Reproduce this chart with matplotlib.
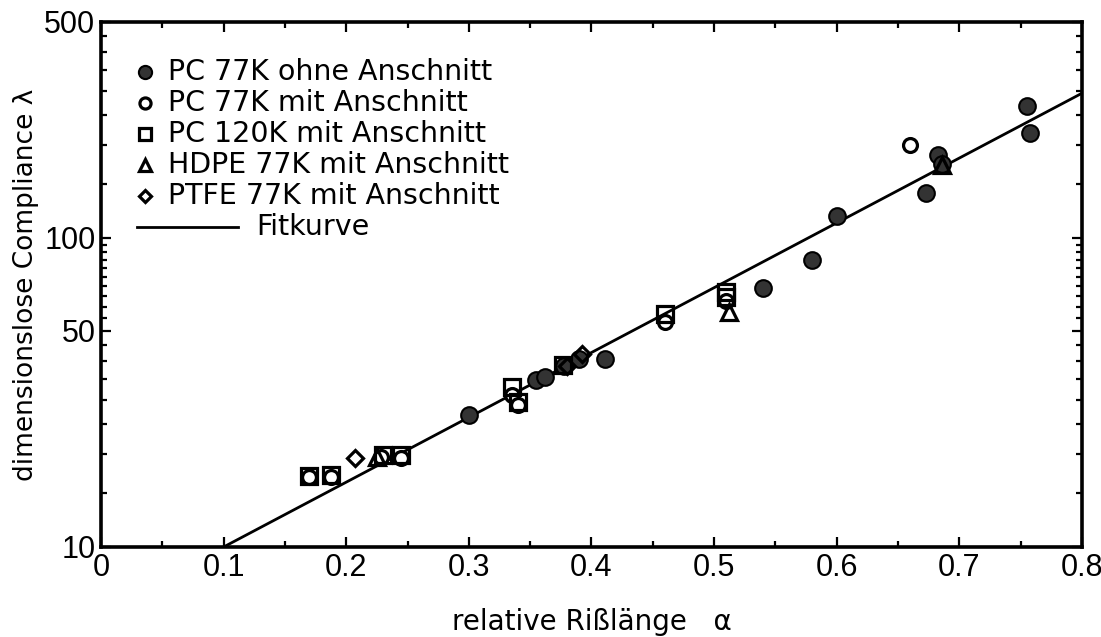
import matplotlib
matplotlib.use("Agg")
import matplotlib.pyplot as plt
from matplotlib.ticker import FixedLocator, NullFormatter

plt.rcParams['font.family'] = ['DejaVu Sans']
TICKFONT = ['Liberation Sans Narrow', 'Liberation Sans', 'DejaVu Sans']

# --- data ---
pc77_ohne_a = [0.300, 0.355, 0.362, 0.378, 0.390, 0.411, 0.540, 0.580, 0.600,
               0.673, 0.683, 0.686, 0.755, 0.758]
pc77_ohne_l = [26.8, 34.8, 35.6, 38.5, 40.6, 40.7, 69.0, 85.0, 118.0,
               140.0, 185.0, 174.0, 268.0, 218.0]

pc77_mit_a = [0.170, 0.188, 0.228, 0.245, 0.335, 0.340, 0.460, 0.510, 0.660]
pc77_mit_l = [16.8, 16.9, 19.6, 19.4, 31.0, 28.8, 53.6, 62.5, 200.0]

pc120_a = [0.170, 0.188, 0.230, 0.245, 0.335, 0.340, 0.377, 0.460, 0.510, 0.510]
pc120_l = [17.0, 17.1, 19.8, 19.8, 33.0, 29.5, 38.8, 56.8, 67.0, 64.6]

hdpe_a = [0.225, 0.512, 0.686]
hdpe_l = [19.5, 57.7, 172.0]

ptfe_a = [0.207, 0.380, 0.392]
ptfe_l = [19.4, 38.5, 42.0]

fit_a = [0.1, 0.8]
fit_l = [10.0, 294.0]

legend_labels = ["PC 77K ohne Anschnitt", "PC 77K mit Anschnitt",
                 "PC 120K mit Anschnitt", "HDPE 77K mit Anschnitt",
                 "PTFE 77K mit Anschnitt", "Fitkurve"]

x_major = [0, 0.1, 0.2, 0.3, 0.4, 0.5, 0.6, 0.7, 0.8]
x_minor = [0.05, 0.15, 0.25, 0.35, 0.45, 0.55, 0.65, 0.75]
y_major = [10, 50, 100, 500]
y_minor = [15, 20, 25, 30, 35, 40, 45, 55, 60, 65, 70, 75, 80, 85, 90, 95,
           150, 200, 250, 300, 350, 400, 450]

# --- figure ---
fig = plt.figure(figsize=(11.01, 6.37), dpi=100)
ax = fig.add_axes([0.0917, 0.1413, 0.8910, 0.8242])

ax.plot(fit_a, fit_l, color='black', lw=2.0, zorder=2)

mew = 2.3
ax.plot(pc77_ohne_a, pc77_ohne_l, 'o', ms=12, mfc='#333333', mec='black', mew=1.5, zorder=3)
ax.plot(pc77_mit_a, pc77_mit_l, 'o', ms=10, mfc='white', mec='black', mew=mew, zorder=4)
ax.plot(pc120_a, pc120_l, 's', ms=11, mfc='none', mec='black', mew=mew, zorder=4)
ax.plot(hdpe_a, hdpe_l, '^', ms=12, mfc='none', mec='black', mew=mew, zorder=4)
ax.plot(ptfe_a, ptfe_l, 'D', ms=8.5, mfc='none', mec='black', mew=mew, zorder=4)

ax.set_yscale('log')
ax.set_xlim(0, 0.8)
ax.set_ylim(10, 500)

ax.xaxis.set_major_locator(FixedLocator(x_major))
ax.xaxis.set_minor_locator(FixedLocator(x_minor))
ax.set_xticklabels(['0', '0.1', '0.2', '0.3', '0.4', '0.5', '0.6', '0.7', '0.8'])
ax.yaxis.set_major_locator(FixedLocator(y_major))
ax.yaxis.set_minor_locator(FixedLocator(y_minor))
ax.yaxis.set_minor_formatter(NullFormatter())
ax.set_yticklabels([str(v) for v in y_major])
for lab in ax.get_xticklabels() + ax.get_yticklabels():
    lab.set_family(TICKFONT)

ax.tick_params(which='both', direction='in', top=True, right=True, labelsize=22, width=1.6)
ax.tick_params(which='major', length=7.5, pad=4)
ax.tick_params(which='minor', length=4)
for s in ax.spines.values():
    s.set_linewidth(2.6)

ax.set_xlabel("relative Rißlänge   α", fontsize=20, labelpad=18)
ax.set_ylabel("dimensionslose Compliance λ", fontsize=19, labelpad=4)

# --- legend (hand placed) ---
styles = [dict(marker='o', ms=9.5, mfc='#333333', mec='black', mew=1.5),
          dict(marker='o', ms=8, mfc='white', mec='black', mew=mew),
          dict(marker='s', ms=8, mfc='none', mec='black', mew=mew),
          dict(marker='^', ms=8.5, mfc='none', mec='black', mew=mew),
          dict(marker='D', ms=6, mfc='none', mec='black', mew=mew)]
y0 = 0.905
dy = 0.059
for i, lab in enumerate(legend_labels):
    yy = y0 - i * dy
    if i < 5:
        ax.plot([0.045], [yy], transform=ax.transAxes, ls='none', clip_on=False, **styles[i])
        ax.text(0.068, yy, lab, transform=ax.transAxes, va='center', ha='left', fontsize=20.5)
    else:
        ax.plot([0.037, 0.140], [yy, yy], transform=ax.transAxes, color='black', lw=2.0)
        ax.text(0.158, yy, lab, transform=ax.transAxes, va='center', ha='left', fontsize=20.5)

fig.savefig("out.png", dpi=100)
